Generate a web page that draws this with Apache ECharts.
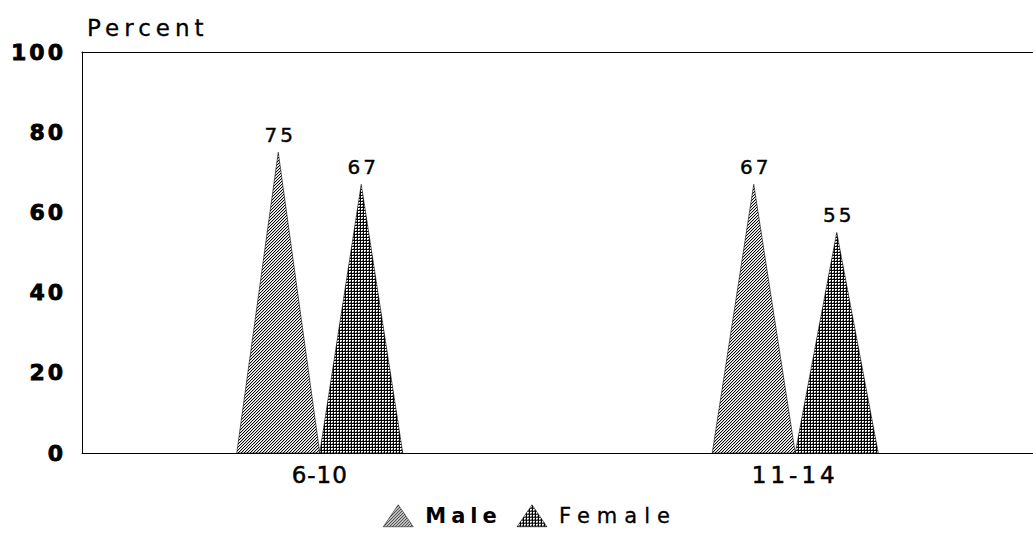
<!DOCTYPE html>
<html><head><meta charset="utf-8">
<script src="https://cdn.jsdelivr.net/npm/echarts@6/dist/echarts.min.js"></script>
<style>html,body{margin:0;padding:0;background:#fff}#c{width:1033px;height:546px}#c svg image{image-rendering:pixelated}</style>
</head><body><div id="c"></div>
<script>
var categories = ['6-10', '11-14'];
var maleValues = [75, 67];
var femaleValues = [67, 55];
var yTicks = [0, 20, 40, 60, 80, 100];

function makePattern(kind) {
  var c = document.createElement('canvas');
  var n = 3;
  c.width = n; c.height = n;
  var ctx = c.getContext('2d');
  ctx.fillStyle = '#fff'; ctx.fillRect(0, 0, n, n);
  for (var x = 0; x < n; x++) for (var y = 0; y < n; y++) {
    if (kind === 'male') {
      var m = (x + y) % 3;
      if (m === 0) { ctx.fillStyle = '#000'; ctx.fillRect(x, y, 1, 1); }
      else if (m === 1) { ctx.fillStyle = '#ccc'; ctx.fillRect(x, y, 1, 1); }
    } else {
      if (x === 0 || y === 0) { ctx.fillStyle = '#000'; ctx.fillRect(x, y, 1, 1); }
      else if (x === 2 && y === 2) { ctx.fillStyle = '#777'; ctx.fillRect(x, y, 1, 1); }
    }
  }
  return { image: c.toDataURL(), imageWidth: n, imageHeight: n, repeat: 'repeat' };
}
var malePat = makePattern('male');
var femalePat = makePattern('female');

var spacing = { 'Percent': 5, '6-10': 1, '11-14': 4, 'Male': 5, 'Female': 7 };
var font = '"DejaVu Sans", "Liberation Sans", Arial, sans-serif';
var TRI_W = 83;

function triangleItem(side, pattern) {
  return function (params, api) {
    var cat = api.value(0), val = api.value(1);
    var base = api.coord([cat, 0]);
    var apex = api.coord([cat, val]);
    var x0 = side < 0 ? base[0] - TRI_W : base[0];
    var cx = x0 + TRI_W / 2;
    return {
      type: 'group',
      children: [{
        type: 'polygon',
        shape: { points: [[x0, base[1]], [cx, apex[1]], [x0 + TRI_W, base[1]]] },
        style: { fill: pattern, stroke: '#000', lineWidth: 0.6 }
      }, {
        type: 'text',
        x: cx + 2, y: apex[1] - 7,
        style: { text: String(val), textAlign: 'center', textVerticalAlign: 'bottom',
          font: '20px ' + font, fill: '#000', stroke: '#000', lineWidth: 0.4 }
      }]
    };
  };
}

var chart = echarts.init(document.getElementById('c'), null, { renderer: 'svg' });
chart.setOption({
  animation: false,
  grid: { left: 82, right: -5, top: 52, bottom: 93 },
  title: { text: 'Percent', left: 82, top: 11,
    textStyle: { fontFamily: font, fontSize: 23, fontWeight: 'normal', color: '#000', textBorderColor: '#000', textBorderWidth: 0.3 } },
  legend: {
    bottom: 14, left: 378, itemWidth: 30, itemHeight: 22, itemGap: 35,
    textStyle: { fontFamily: font, fontSize: 21, color: '#000', fontWeight: 'bold', padding: [0, 0, 0, 7] },
    data: [
      { name: 'Male', icon: 'triangle', itemStyle: { color: malePat, borderColor: '#000', borderWidth: 0.5 } },
      { name: 'Female', icon: 'triangle', itemStyle: { color: femalePat, borderColor: '#000', borderWidth: 0.5 },
        textStyle: { fontWeight: 'normal', textBorderColor: '#000', textBorderWidth: 0.3 } }
    ]
  },
  xAxis: [{
    type: 'category', data: categories,
    axisLine: { lineStyle: { color: '#000', width: 1 } },
    axisTick: { show: false },
    axisLabel: { fontFamily: font, fontSize: 23, color: '#000', margin: 10, textBorderColor: '#000', textBorderWidth: 0.5 }
  }, {
    type: 'category', data: categories, position: 'top',
    axisLine: { show: true, onZero: false, lineStyle: { color: '#000', width: 1 } },
    axisTick: { show: false }, axisLabel: { show: false }
  }],
  yAxis: {
    type: 'value', min: 0, max: 100, interval: 20,
    axisLine: { show: true, lineStyle: { color: '#000', width: 1 } },
    axisTick: { show: false }, splitLine: { show: false },
    axisLabel: { fontFamily: font, fontSize: 22, fontWeight: 'bold', color: '#000', margin: 16, textBorderColor: '#000', textBorderWidth: 0.8,
      padding: [6, 0, 0, 0],
      formatter: function (v) { return yTicks.indexOf(v) >= 0 ? String(v) : ''; } }
  },
  series: [{
    name: 'Male', type: 'custom', renderItem: triangleItem(-1, malePat),
    encode: { x: 0, y: 1 },
    data: maleValues.map(function (v, i) { return [i, v]; })
  }, {
    name: 'Female', type: 'custom', renderItem: triangleItem(1, femalePat),
    encode: { x: 0, y: 1 },
    data: femaleValues.map(function (v, i) { return [i, v]; })
  }]
});

function applySpacing() {
  var texts = document.querySelectorAll('#c svg text');
  for (var i = 0; i < texts.length; i++) {
    var t = texts[i].textContent;
    var s = spacing.hasOwnProperty(t) ? spacing[t] : (/^\d+$/.test(t) ? 3 : 0);
    texts[i].style.letterSpacing = s + 'px';
  }
}
applySpacing();
chart.on('finished', applySpacing);
</script></body></html>
